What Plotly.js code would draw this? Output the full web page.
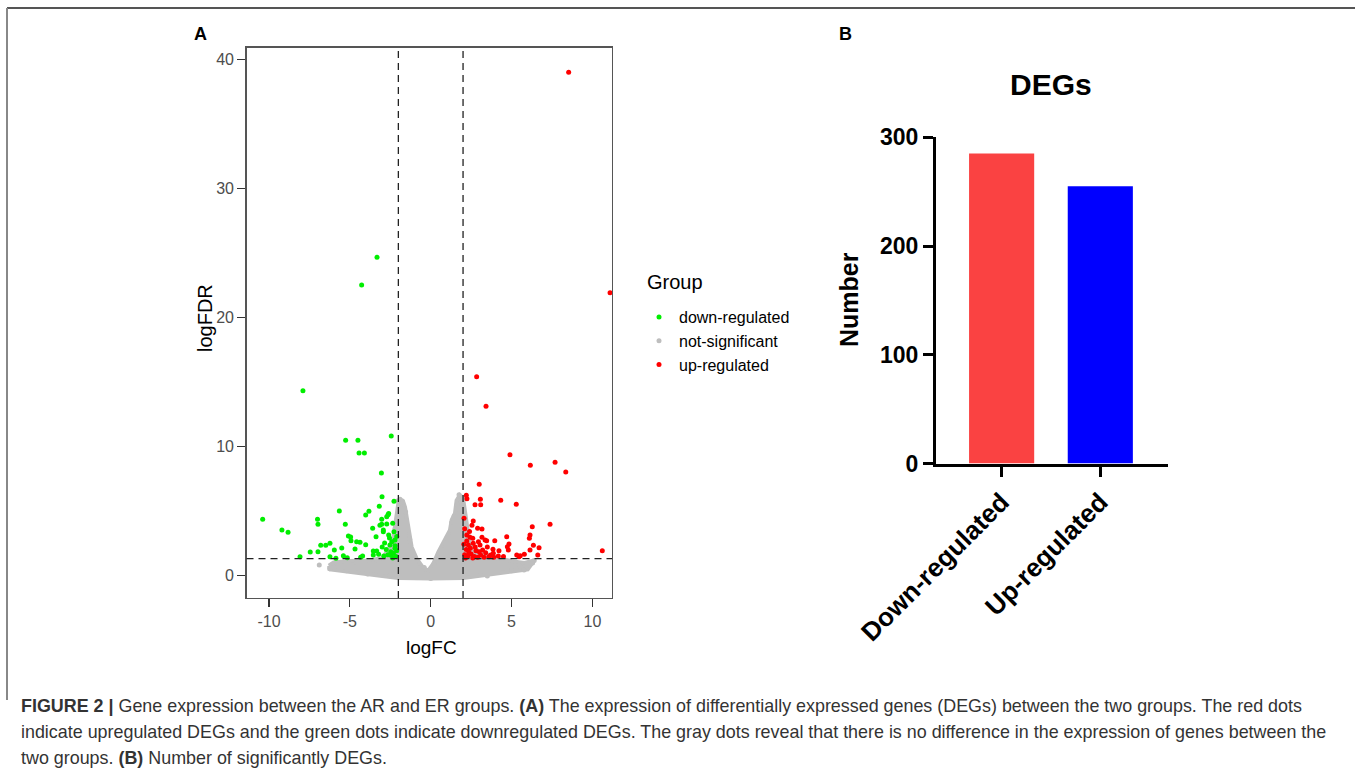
<!DOCTYPE html>
<html>
<head>
<meta charset="utf-8">
<script src="https://cdn.plot.ly/plotly-3.0.1.min.js"></script>
<style>
  html, body { margin: 0; padding: 0; background: #fff; }
  #chart { width: 1355px; height: 777px; }
</style>
</head>
<body>
<div id="chart"></div>
<script>
// ---------------- Panel A: volcano plot data ----------------
const downX = [-3.32,-4.27,-7.9,-5.26,-4.5,-2.44,-4.43,-4.1,-3.05,-10.39,-9.2,-8.82,-8.08,-7.45,-7.0,-6.97,-6.97,-6.8,-6.49,-6.23,-6.23,-5.96,-5.86,-5.65,-5.5,-5.4,-5.28,-5.09,-4.95,-5.16,-4.93,-4.68,-4.58,-4.37,-4.33,-4.21,-4.02,-4.02,-3.82,-3.59,-3.55,-3.55,-3.38,-3.34,-3.22,-3.18,-3.14,-3.03,-3.01,-2.93,-2.72,-2.64,-2.6,-2.52,-2.47,-2.35,-2.31,-2.21,-2.27,-2.21,-2.27,-2.85,-2.75,-2.65,-2.4,-2.15,-2.35,-2.9,-2.55,-2.1,-3.0,-2.2,-2.45,-2.1,-2.6,-2.72,-3.03,-2.93];
const downY = [24.65,22.5,14.3,10.47,10.47,10.8,9.48,9.48,7.93,4.34,3.51,3.33,1.44,1.8,4.34,3.95,1.83,2.32,2.32,2.48,1.44,1.96,1.32,4.98,2.12,1.52,3.95,3.05,2.97,1.36,2.68,2.04,2.6,2.56,1.4,1.5,2.37,4.67,4.96,3.64,1.88,1.57,2.99,1.88,1.63,5.35,3.88,4.34,6.09,3.38,3.98,4.7,3.12,2.35,1.83,4.03,1.7,2.09,3.38,2.74,5.74,2.5,2.0,1.6,2.6,1.45,1.35,1.5,2.9,3.0,2.2,2.3,1.55,1.9,4.8,4.54,3.95,3.51];

const upX = [8.53,11.09,2.84,3.42,4.9,6.16,7.69,8.35,3.0,2.2,2.24,2.74,3.07,3.09,4.33,5.29,2.06,2.63,2.55,2.9,3.17,6.28,7.38,2.23,2.43,2.23,2.33,2.6,2.63,3.17,3.36,3.46,3.96,4.7,6.14,6.1,4.74,4.8,4.84,6.35,6.7,6.62,6.14,5.79,5.46,5.54,10.61,3.85,3.87,4.22,4.18,3.6,3.71,3.05,3.21,3.0,3.09,5.32,2.1,2.3,2.5,2.2,2.45,2.7,2.8,2.15,2.6,2.9,3.3,3.5,2.35,2.75,2.05,3.9,4.5,3.4,2.95,2.1,2.4];
const upY = [39.0,21.9,15.4,13.1,9.35,8.53,8.76,8.0,7.05,6.2,5.94,5.47,5.89,5.47,5.81,5.5,4.42,4.21,3.88,3.64,3.59,3.77,3.95,3.12,2.95,2.66,2.35,2.87,2.48,2.95,2.74,2.68,2.68,2.99,3.12,2.87,2.22,1.96,2.43,2.33,2.14,1.57,1.96,1.63,1.44,1.52,1.91,2.02,1.71,1.91,1.5,1.44,1.57,2.35,1.96,1.83,1.57,1.57,1.6,1.5,1.65,2.0,2.1,1.45,1.9,1.35,1.35,1.4,1.4,2.2,1.8,2.2,2.4,1.4,1.45,1.75,2.6,3.6,3.4];

// scattered non-significant genes at the edge of the dense cloud
const notSigX = [-6.89,-6.1,-5.8,-5.2,-4.6,-3.9,-3.3,-2.05,-1.9,-1.75,1.75,1.9,1.65,1.45,6.4,6.1,5.77,5.5,5.0,4.2,-0.4,0.2,-1.3,1.0,-2.5,3.5,0.0,-6.25,6.3,-1.55,1.3,-2.4,-2.2,-2.6,2.3,2.6];
const notSigY = [0.8,0.6,0.95,0.35,1.0,0.1,1.2,5.75,5.9,5.75,6.25,6.0,5.5,4.6,1.15,0.8,0.41,0.7,0.35,1.3,0.6,0.9,2.8,2.9,0.0,-0.05,-0.25,0.5,0.95,4.9,4.1,2.6,3.6,1.9,2.1,1.6];
// outline of the dense cloud of non-significant genes
const cloudX = [-6.3,-6.0,-5.0,-4.0,-3.0,-2.6,-2.3,-2.1,-2.0,-1.85,-1.7,-1.59,-1.48,-1.39,-1.18,-0.87,-0.45,-0.15,0.16,0.47,0.88,1.19,1.3,1.5,1.6,1.8,2.0,2.2,2.4,3.0,4.0,5.0,5.8,6.4,6.0,5.0,4.0,3.0,2.0,0.0,-2.0,-3.0,-4.5,-5.5,-6.2,-6.3];
const cloudY = [0.75,1.0,1.1,1.15,1.3,2.0,3.0,4.5,5.6,5.85,5.7,5.3,4.5,3.5,2.2,1.3,0.55,0.36,0.9,1.8,2.7,3.5,4.3,4.8,5.8,6.2,6.0,4.0,2.5,1.8,1.4,1.1,0.95,1.15,0.45,0.3,0.15,0.0,-0.2,-0.25,-0.2,-0.05,0.15,0.3,0.45,0.75];

const fcCut = [-2, 2];
const fdrCut = 1.3;
const xTickVals = [-10, -5, 0, 5, 10];
const xTickText = ['-10', '-5', '0', '5', '10'];
const yTickVals = [0, 10, 20, 30, 40];

// ---------------- Panel B: bar chart data ----------------
const barCats = ['Down-regulated', 'Up-regulated'];
const barVals = [285, 255];
const barColors = ['#FA4242', '#0000FF'];

// ---------------- helpers (pixel -> paper) ----------------
const W = 1355, H = 777;
const px = v => v / W;
const py = v => 1 - v / H;
const FONT = 'Liberation Sans, Arial, sans-serif';

const GREEN = '#00EE00', RED = '#FF0000', GREY = '#BEBEBE';

const traces = [
  { type: 'scatter', mode: 'lines', x: cloudX, y: cloudY, fill: 'toself',
    fillcolor: GREY, line: { color: GREY, width: 4 }, hoverinfo: 'skip',
    showlegend: false, xaxis: 'x', yaxis: 'y' },
  { type: 'scatter', mode: 'markers', name: 'not-significant', x: notSigX, y: notSigY,
    marker: { color: GREY, size: 5 }, legendrank: 2, xaxis: 'x', yaxis: 'y' },
  { type: 'scatter', mode: 'markers', name: 'down-regulated', x: downX, y: downY,
    marker: { color: GREEN, size: 5 }, legendrank: 1, xaxis: 'x', yaxis: 'y' },
  { type: 'scatter', mode: 'markers', name: 'up-regulated', x: upX, y: upY,
    marker: { color: RED, size: 5 }, legendrank: 3, xaxis: 'x', yaxis: 'y' },
  { type: 'bar', x: barCats, y: barVals, width: 0.66,
    marker: { color: barColors, line: { width: 0 } }, showlegend: false,
    xaxis: 'x2', yaxis: 'y2' }
];

const dashLine = { color: '#222', width: 1.3, dash: '7px,5px' };
const shapes = [
  // figure frame (top + left)
  { type: 'line', xref: 'paper', yref: 'paper', x0: px(7), x1: 1, y0: py(8), y1: py(8),
    line: { color: '#555', width: 2 } },
  { type: 'line', xref: 'paper', yref: 'paper', x0: px(7), x1: px(7), y0: py(8), y1: py(700),
    line: { color: '#888', width: 2 } },
  // threshold lines
  { type: 'line', xref: 'x', yref: 'y domain', x0: fcCut[0], x1: fcCut[0], y0: 0, y1: 1, line: dashLine },
  { type: 'line', xref: 'x', yref: 'y domain', x0: fcCut[1], x1: fcCut[1], y0: 0, y1: 1, line: dashLine },
  { type: 'line', xref: 'x domain', yref: 'y', x0: 0, x1: 1, y0: fdrCut, y1: fdrCut, line: dashLine }
];

function label(text, x, y, size, opts) {
  return Object.assign({
    text: text, x: px(x), y: py(y), xref: 'paper', yref: 'paper',
    xanchor: 'center', yanchor: 'middle', showarrow: false,
    font: { family: FONT, size: size, color: '#000' }
  }, opts || {});
}
const capFont = { family: FONT, size: 17.9, color: '#333' };
const capOpts = { xanchor: 'left', font: capFont };
const annotations = [
  label('<b>A</b>', 201, 34, 18),
  label('<b>B</b>', 845, 34, 18),
  label('logFC', 431, 647, 19),
  label('logFDR', 205, 318, 20, { textangle: -90 }),
  label('Group', 675, 282, 20),
  label('<b>DEGs</b>', 1051, 84, 30),
  label('<b>Number</b>', 849, 299, 25, { textangle: -90 }),
  label('<b>FIGURE 2 |</b> Gene expression between the AR and ER groups. <b>(A)</b> The expression of differentially expressed genes (DEGs) between the two groups. The red dots',
    19, 706, 18, capOpts),
  label('indicate upregulated DEGs and the green dots indicate downregulated DEGs. The gray dots reveal that there is no difference in the expression of genes between the',
    19, 732, 18, capOpts),
  label('two groups. <b>(B)</b> Number of significantly DEGs.', 19, 758, 18, capOpts)
];

const layout = {
  width: W, height: H,
  margin: { l: 0, r: 0, t: 0, b: 0 },
  paper_bgcolor: '#fff', plot_bgcolor: 'rgba(0,0,0,0)',
  font: { family: FONT },
  xaxis: {
    domain: [px(246.5), px(612)], range: [-11.39, 11.21],
    showgrid: false, zeroline: false, showline: true, mirror: true,
    linecolor: '#555', linewidth: 1.3,
    ticks: 'outside', ticklen: 8, tickwidth: 1.3, tickcolor: '#333',
    tickvals: xTickVals, ticktext: xTickText,
    tickfont: { family: FONT, size: 16, color: '#4D4D4D' }, fixedrange: true
  },
  yaxis: {
    domain: [py(598), py(47.7)], range: [-1.76, 40.9],
    showgrid: false, zeroline: false, showline: true, mirror: true,
    linecolor: '#555', linewidth: 1.3,
    ticks: 'outside', ticklen: 8, tickwidth: 1.3, tickcolor: '#333',
    tickvals: yTickVals,
    tickfont: { family: FONT, size: 16, color: '#4D4D4D' }, fixedrange: true
  },
  xaxis2: {
    anchor: 'y2', domain: [px(936), px(1168)], range: [-0.665, 1.686],
    type: 'category', showgrid: false, zeroline: false, showline: true,
    linecolor: '#000', linewidth: 3,
    ticks: 'outside', ticklen: 10, tickwidth: 3, tickcolor: '#000',
    tickangle: -45,
    tickfont: { family: FONT, size: 26, color: '#000', weight: 'bold' }, fixedrange: true
  },
  yaxis2: {
    anchor: 'x2', domain: [py(463.5), py(137.3)], range: [0, 300],
    showgrid: false, zeroline: false, showline: true,
    linecolor: '#000', linewidth: 3,
    ticks: 'outside', ticklen: 10, tickwidth: 3, tickcolor: '#000',
    tickvals: [0, 100, 200, 300],
    tickfont: { family: FONT, size: 23, color: '#000', weight: 'bold' }, fixedrange: true
  },
  showlegend: true,
  legend: {
    x: px(639), y: py(300), xanchor: 'left', yanchor: 'top',
    bgcolor: 'rgba(0,0,0,0)', borderwidth: 0,
    font: { family: FONT, size: 16, color: '#000' },
    traceorder: 'normal'
  },
  shapes: shapes,
  annotations: annotations
};

Plotly.newPlot('chart', traces, layout, { staticPlot: true, displayModeBar: false });
</script>
</body>
</html>
